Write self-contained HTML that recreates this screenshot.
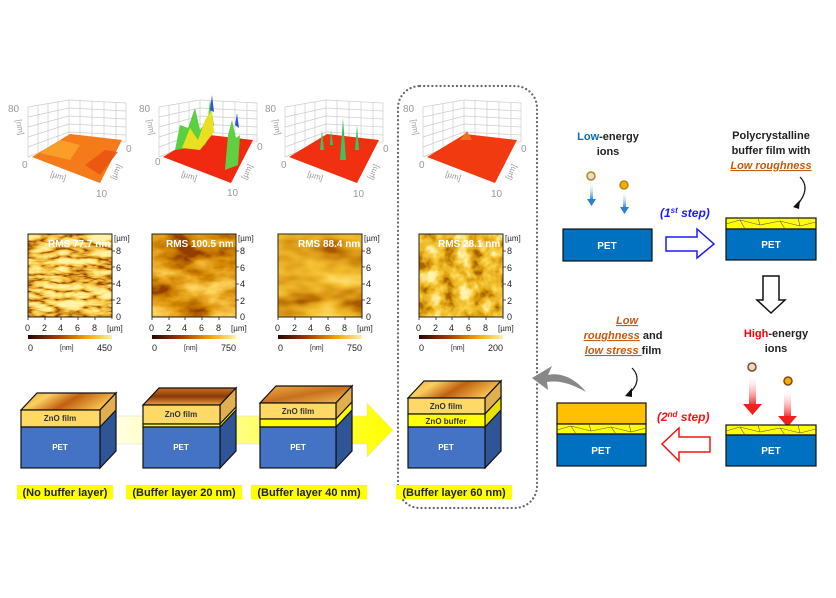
<!DOCTYPE html>
<html><head><meta charset="utf-8"><style>
html,body{margin:0;padding:0;background:#fff;}
svg{display:block;font-family:"Liberation Sans",Arial,sans-serif;}
</style></head><body>
<svg width="836" height="598" viewBox="0 0 836 598" xmlns="http://www.w3.org/2000/svg">
<defs>
<filter id="afm1" x="0" y="0" width="1" height="1">
 <feTurbulence type="turbulence" baseFrequency="0.035 0.12" numOctaves="3" seed="3"/>
 <feColorMatrix type="matrix" values="0 0 0 2.0 -0.15 0 0 0 2.0 -0.15 0 0 0 2.0 -0.15 0 0 0 0 1"/>
 <feComponentTransfer><feFuncR type="table" tableValues="0.3 0.75 0.95 1 1"/><feFuncG type="table" tableValues="0.05 0.35 0.62 0.8 0.9"/><feFuncB type="table" tableValues="0 0.02 0.08 0.22 0.4"/></feComponentTransfer>
</filter>
<filter id="afm2" x="0" y="0" width="1" height="1">
 <feTurbulence type="fractalNoise" baseFrequency="0.025 0.05" numOctaves="4" seed="7"/>
 <feColorMatrix type="matrix" values="0 0 0 1.8 -0.45 0 0 0 1.8 -0.45 0 0 0 1.8 -0.45 0 0 0 0 1"/>
 <feComponentTransfer><feFuncR type="table" tableValues="0.3 0.62 0.85 1"/><feFuncG type="table" tableValues="0.05 0.22 0.42 0.68"/><feFuncB type="table" tableValues="0 0 0.02 0.12"/></feComponentTransfer>
</filter>
<filter id="afm3" x="0" y="0" width="1" height="1">
 <feTurbulence type="fractalNoise" baseFrequency="0.02 0.045" numOctaves="3" seed="11"/>
 <feColorMatrix type="matrix" values="0 0 0 1.8 -0.45 0 0 0 1.8 -0.45 0 0 0 1.8 -0.45 0 0 0 0 1"/>
 <feComponentTransfer><feFuncR type="table" tableValues="0.4 0.72 0.9 1"/><feFuncG type="table" tableValues="0.1 0.32 0.52 0.75"/><feFuncB type="table" tableValues="0 0.01 0.03 0.15"/></feComponentTransfer>
</filter>
<filter id="afm4" x="0" y="0" width="1" height="1">
 <feTurbulence type="fractalNoise" baseFrequency="0.07" numOctaves="4" seed="5"/>
 <feColorMatrix type="matrix" values="0 0 0 1.9 -0.45 0 0 0 1.9 -0.45 0 0 0 1.9 -0.45 0 0 0 0 1"/>
 <feComponentTransfer><feFuncR type="table" tableValues="0.4 0.78 0.95 1"/><feFuncG type="table" tableValues="0.12 0.4 0.62 0.9"/><feFuncB type="table" tableValues="0 0.01 0.05 0.4"/></feComponentTransfer>
</filter>
<linearGradient id="cbar" x1="0" x2="1"><stop offset="0" stop-color="#2a0500"/><stop offset="0.35" stop-color="#a03c00"/><stop offset="0.7" stop-color="#f0a800"/><stop offset="1" stop-color="#fff0b0"/></linearGradient>
<linearGradient id="band" x1="0" x2="1"><stop offset="0" stop-color="#fffff0"/><stop offset="1" stop-color="#ffff00"/></linearGradient>
<linearGradient id="blueArr" x1="0" y1="0" x2="0" y2="1"><stop offset="0" stop-color="#fff" stop-opacity="0"/><stop offset="1" stop-color="#2a7fd0"/></linearGradient>
<linearGradient id="redArr" x1="0" y1="0" x2="0" y2="1"><stop offset="0" stop-color="#fff" stop-opacity="0"/><stop offset="1" stop-color="#f02020"/></linearGradient>
<linearGradient id="top1" x1="0" x2="1" y1="0" y2="0.3"><stop offset="0" stop-color="#e8a030"/><stop offset="0.3" stop-color="#fbd060"/><stop offset="0.6" stop-color="#c06010"/><stop offset="1" stop-color="#f8c050"/></linearGradient>
<linearGradient id="top2" x1="0" x2="0" y1="0" y2="1"><stop offset="0" stop-color="#c87020"/><stop offset="0.5" stop-color="#8a3a08"/><stop offset="1" stop-color="#e8a040"/></linearGradient>
<linearGradient id="top3" x1="0" x2="1" y1="0" y2="1"><stop offset="0" stop-color="#f0b040"/><stop offset="0.5" stop-color="#c87020"/><stop offset="1" stop-color="#f6c050"/></linearGradient>
</defs>

<rect x="398" y="86" width="139" height="422" rx="22" fill="none" stroke="#666" stroke-width="2.2" stroke-dasharray="0.1 4" stroke-linecap="round"/>

<g id="p3d" font-size="10" fill="#999">
 <g stroke="#ccc" stroke-width="0.7" fill="none">
  <path d="M28,107 L69,100 L126,103 M28,157 L28,107 M69,100 L69,140 M126,103 L126,142 M28,157 L69,140 L126,142"/>
  <path d="M28,117 L69,108 L126,111 M28,127 L69,116 L126,119 M28,137 L69,124 L126,127 M28,147 L69,132 L126,135"/>
  <path d="M38,105 L38,153 M48,104 L48,149 M58,102 L58,145 M80,100 L80,140 M92,101 L92,141 M104,102 L104,141 M116,102 L116,142"/>
 </g>
</g>
<use href="#p3d" x="131"/><use href="#p3d" x="257"/><use href="#p3d" x="395"/>
<polygon points="32,157 70,134 122,140 100,183" fill="#f57a1a"/>
<polygon points="40,153 60,140 80,145 70,160" fill="#fcae30" opacity="0.7"/>
<polygon points="85,165 105,150 118,152 100,175" fill="#e85010" opacity="0.8"/>
<polygon points="163,157 201,134 253,140 231,183" fill="#f02a10"/>
<path d="M175,150 L180,125 L188,128 L195,108 L200,130 L208,118 L210,100 L214,125 L205,145 Z" fill="#5ad040"/>
<path d="M182,148 L190,128 L198,140 L205,120 L212,110 L214,132 L200,150 Z" fill="#e8e020"/>
<path d="M225,170 L228,135 L232,120 L236,138 L240,135 L238,165 Z" fill="#60d040"/>
<path d="M210,110 L212,95 L214,112 Z M235,125 L237,113 L239,128 Z" fill="#3050e0"/>
<polygon points="289,157 327,134 379,140 357,183" fill="#f03010"/>
<path d="M320,150 L322,130 L324,150 Z M340,160 L343,118 L346,160 Z M355,150 L357,125 L359,150 Z M330,145 L331,130 L333,145 Z" fill="#40c060"/>
<polygon points="427,157 465,134 517,140 495,183" fill="#f23a10"/>
<polygon points="460,140 467,131 472,140" fill="#f07020"/>
<g font-size="10" fill="#999">
 <text x="8" y="112">80</text><text x="139" y="112">80</text><text x="265" y="112">80</text><text x="403" y="112">80</text>
 <text x="22" y="168">0</text><text x="155" y="165">0</text><text x="281" y="168">0</text><text x="419" y="168">0</text>
 <text x="96" y="197">10</text><text x="227" y="196">10</text><text x="353" y="197">10</text><text x="491" y="197">10</text>
 <text x="126" y="152">0</text><text x="257" y="150">0</text><text x="383" y="152">0</text><text x="521" y="152">0</text>
 <g font-size="8">
 <text transform="translate(16,120) rotate(80)">[nm]</text><text transform="translate(147,120) rotate(80)">[nm]</text><text transform="translate(273,120) rotate(80)">[nm]</text><text transform="translate(411,120) rotate(80)">[nm]</text>
 <text transform="translate(50,176) rotate(18)">[µm]</text><text transform="translate(181,176) rotate(18)">[µm]</text><text transform="translate(307,176) rotate(18)">[µm]</text><text transform="translate(445,176) rotate(18)">[µm]</text>
 <text transform="translate(115,180) rotate(-65)">[µm]</text><text transform="translate(246,180) rotate(-65)">[µm]</text><text transform="translate(372,180) rotate(-65)">[µm]</text><text transform="translate(510,180) rotate(-65)">[µm]</text>
 </g>
</g>

<rect x="28" y="234" width="84" height="83" fill="#c06a10" filter="url(#afm1)"/>
<rect x="152" y="234" width="84" height="83" fill="#c06a10" filter="url(#afm2)"/>
<rect x="278" y="234" width="84" height="83" fill="#c06a10" filter="url(#afm3)"/>
<rect x="419" y="234" width="84" height="83" fill="#c06a10" filter="url(#afm4)"/>
<g fill="none" stroke="#222" stroke-width="1">
<rect x="28" y="234" width="84" height="83"/><rect x="152" y="234" width="84" height="83"/><rect x="278" y="234" width="84" height="83"/><rect x="419" y="234" width="84" height="83"/>
</g>
<g font-size="10" font-weight="bold" fill="#fff">
<text x="48" y="247">RMS 77.7 nm</text><text x="166" y="247">RMS 100.5 nm</text><text x="298" y="247">RMS 88.4 nm</text><text x="438" y="247">RMS 28.1 nm</text>
</g>
<g id="axes" font-size="9" fill="#222">
 <g stroke="#222" stroke-width="0.8"><path d="M112,317 v2 M28,317 v3 M45,317 v3 M61,317 v3 M78,317 v3 M95,317 v3 M112,300 h3 M112,284 h3 M112,267 h3 M112,251 h3"/></g>
 <text x="25" y="331">0</text><text x="42" y="331">2</text><text x="58" y="331">4</text><text x="75" y="331">6</text><text x="92" y="331">8</text><text x="107" y="331" font-size="8">[µm]</text>
 <text x="116" y="320">0</text><text x="116" y="304">2</text><text x="116" y="287">4</text><text x="116" y="271">6</text><text x="116" y="254">8</text><text x="114" y="241" font-size="8">[µm]</text>
 <rect x="28" y="335" width="84" height="4" fill="url(#cbar)"/>
 <text x="28" y="351">0</text><text x="60" y="350" font-size="7">[nm]</text>
</g>
<use href="#axes" x="124"/><use href="#axes" x="250"/><use href="#axes" x="391"/>
<g font-size="9" fill="#222"><text x="97" y="351">450</text><text x="221" y="351">750</text><text x="347" y="351">750</text><text x="488" y="351">200</text></g>

<polygon points="100,416 367,416 367,403 393,430 367,457 367,444 100,444" fill="url(#band)" stroke="#ddd" stroke-width="0.5"/>

<g stroke="#111" stroke-width="1.2">
 <polygon points="21,410 37,393 116,393 100,410" fill="url(#top1)"/>
 <polygon points="100,410 116,393 116,451 100,468" fill="#2f5597"/>
 <polygon points="100,410 116,393 116,410 100,427" fill="#e0b050"/>
 <rect x="21" y="410" width="79" height="17" fill="#ffd966"/>
 <rect x="21" y="427" width="79" height="41" fill="#4472c4"/>
 <polygon points="143,405 159,388 236,388 220,405" fill="url(#top2)"/>
 <polygon points="220,405 236,388 236,451 220,468" fill="#2f5597"/>
 <polygon points="220,405 236,388 236,407 220,424" fill="#e0b050"/>
 <polygon points="220,424 236,407 236,410 220,427" fill="#ffff00"/>
 <rect x="143" y="405" width="77" height="19" fill="#ffd966"/>
 <rect x="143" y="424" width="77" height="3" fill="#ffff00"/>
 <rect x="143" y="427" width="77" height="41" fill="#4472c4"/>
 <polygon points="260,403 276,386 352,386 336,403" fill="url(#top3)"/>
 <polygon points="336,403 352,386 352,451 336,468" fill="#2f5597"/>
 <polygon points="336,403 352,386 352,402 336,419" fill="#e0b050"/>
 <polygon points="336,419 352,402 352,410 336,427" fill="#ffff00"/>
 <rect x="260" y="403" width="76" height="16" fill="#ffd966"/>
 <rect x="260" y="419" width="76" height="8" fill="#ffff00"/>
 <rect x="260" y="427" width="76" height="41" fill="#4472c4"/>
 <polygon points="408,398 424,381 501,381 485,398" fill="url(#top1)"/>
 <polygon points="485,398 501,381 501,451 485,468" fill="#2f5597"/>
 <polygon points="485,398 501,381 501,397 485,414" fill="#e0b050"/>
 <polygon points="485,414 501,397 501,410 485,427" fill="#e8e000"/>
 <rect x="408" y="398" width="77" height="16" fill="#ffd966"/>
 <rect x="408" y="414" width="77" height="13" fill="#ffff00"/>
 <rect x="408" y="427" width="77" height="41" fill="#4472c4"/>
</g>
<g font-size="8" font-weight="bold" text-anchor="middle" fill="#333">
 <text x="60" y="421">ZnO film</text><text x="181" y="417">ZnO film</text><text x="298" y="414">ZnO film</text><text x="446" y="409">ZnO film</text><text x="446" y="424">ZnO buffer</text>
 <g fill="#fff"><text x="60" y="450">PET</text><text x="181" y="450">PET</text><text x="298" y="450">PET</text><text x="446" y="450">PET</text></g>
</g>
<g fill="#ffff00"><rect x="17" y="485" width="96" height="14"/><rect x="126" y="485" width="116" height="14"/><rect x="251" y="485" width="116" height="14"/><rect x="396" y="485" width="116" height="14"/></g>
<g font-size="11" font-weight="bold" fill="#222" text-anchor="middle">
 <text x="65" y="496">(No buffer layer)</text><text x="184" y="496">(Buffer layer 20 nm)</text><text x="309" y="496">(Buffer layer 40 nm)</text><text x="454" y="496">(Buffer layer 60 nm)</text>
</g>

<g font-size="11" font-weight="bold" fill="#222" text-anchor="middle">
 <text x="608" y="140"><tspan fill="#0070c0">Low</tspan>-energy</text><text x="608" y="155">ions</text>
 <text x="771" y="139">Polycrystalline</text><text x="771" y="154">buffer film with</text>
 <text x="771" y="169" fill="#c55a11" font-style="italic" text-decoration="underline">Low roughness</text>
 <text x="776" y="337"><tspan fill="#ff0000">High</tspan>-energy</text><text x="776" y="352">ions</text>
 <text x="627" y="324" fill="#c55a11" font-style="italic" text-decoration="underline">Low</text>
 <text x="623" y="339"><tspan fill="#c55a11" font-style="italic" text-decoration="underline">roughness</tspan> and</text>
 <text x="623" y="354"><tspan fill="#c55a11" font-style="italic" text-decoration="underline">low stress </tspan>film</text>
</g>
<text x="660" y="217" font-size="12" font-weight="bold" font-style="italic" fill="#1a1aff">(1<tspan font-size="8" dy="-4">st</tspan><tspan dy="4"> step)</tspan></text>
<text x="657" y="421" font-size="12" font-weight="bold" font-style="italic" fill="#ff1010">(2<tspan font-size="8" dy="-4">nd</tspan><tspan dy="4"> step)</tspan></text>

<rect x="590" y="182" width="3" height="18" fill="url(#blueArr)"/><polygon points="587,199 596,199 591.5,206" fill="#2a7fd0"/>
<rect x="623" y="191" width="3" height="17" fill="url(#blueArr)"/><polygon points="620,207 629,207 624.5,214" fill="#2a7fd0"/>
<circle cx="591" cy="176" r="4" fill="#ddd" stroke="#b8860b" stroke-width="1.5"/>
<circle cx="624" cy="185" r="4" fill="#f0b000" stroke="#b8860b" stroke-width="1.5"/>
<rect x="749" y="374" width="7" height="32" fill="url(#redArr)"/><polygon points="743,404 762,404 752.5,415" fill="#f02020"/>
<rect x="784" y="388" width="7" height="30" fill="url(#redArr)"/><polygon points="778,416 797,416 787.5,427" fill="#f02020"/>
<circle cx="752" cy="367" r="4" fill="#ddd" stroke="#8b4513" stroke-width="1.5"/>
<circle cx="788" cy="381" r="4" fill="#f0b000" stroke="#8b4513" stroke-width="1.5"/>

<g stroke="#111" stroke-width="1.2">
 <rect x="563" y="229" width="89" height="32" fill="#0070c0"/>
 <rect x="726" y="218" width="90" height="11" fill="#ffff00"/>
 <rect x="726" y="229" width="90" height="31" fill="#0070c0"/>
 <rect x="726" y="425" width="90" height="10" fill="#ffff00"/>
 <rect x="726" y="435" width="90" height="31" fill="#0070c0"/>
 <rect x="557" y="403" width="89" height="21" fill="#ffc000"/>
 <rect x="557" y="424" width="89" height="10" fill="#ffff00"/>
 <rect x="557" y="434" width="89" height="32" fill="#0070c0"/>
</g>
<g stroke="#555" stroke-width="0.6" fill="none">
 <path d="M726,224 L740,220 L760,225 L780,221 L800,226 L816,222 M740,220 L745,229 M760,225 L758,218 M780,221 L785,229 M800,226 L798,218"/>
 <path d="M726,431 L740,427 L760,432 L780,428 L800,433 L816,429 M740,427 L745,435 M760,432 L758,425 M780,428 L785,435 M800,433 L798,425"/>
 <path d="M557,430 L571,426 L591,431 L611,427 L631,432 L646,428 M571,426 L576,434 M591,431 L589,424 M611,427 L616,434 M631,432 L629,424"/>
</g>
<g font-size="10" font-weight="bold" fill="#fff" text-anchor="middle">
 <text x="607" y="249">PET</text><text x="771" y="248">PET</text><text x="771" y="454">PET</text><text x="601" y="454">PET</text>
</g>

<polygon points="666,237 697,237 697,229 714,244 697,258 697,251 666,251" fill="#fff" stroke="#1a1aff" stroke-width="1.5"/>
<polygon points="710,437 679,437 679,428 662,444 679,461 679,452 710,452" fill="#fff" stroke="#ff1010" stroke-width="1.5"/>
<polygon points="763,276 779,276 779,300 785,300 771,313 757,300 763,300" fill="#fff" stroke="#111" stroke-width="1.5"/>

<path d="M800,177 C808,185 806,195 797,205" fill="none" stroke="#111" stroke-width="1.2"/>
<polygon points="793,207 800,200 799,209" fill="#111"/>
<path d="M632,368 C640,376 638,386 629,393" fill="none" stroke="#111" stroke-width="1.2"/>
<polygon points="625,396 632,388 632,397" fill="#111"/>

<path d="M586,392 C575,378 560,372 548,375 L552,366 L532,378 L548,390 L547,382 C560,380 572,384 586,392 Z" fill="#888"/>
</svg>
</body></html>
